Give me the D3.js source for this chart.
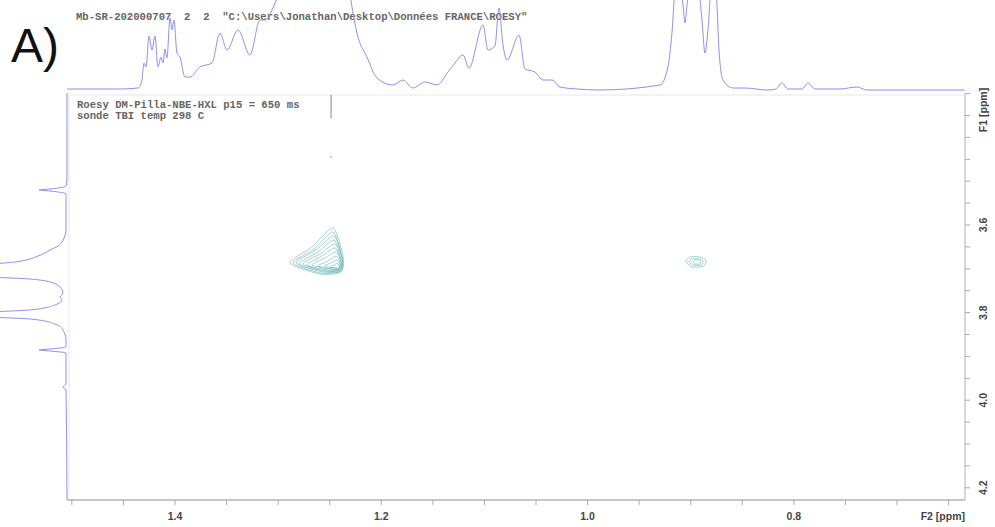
<!DOCTYPE html>
<html><head><meta charset="utf-8">
<script src="https://cdn.jsdelivr.net/npm/d3@7"></script>
<style>
html,body{margin:0;padding:0;background:#fff;}
svg{display:block;}
</style></head>
<body>
<svg id="chart" width="995" height="527"></svg>
<script>
// ---------- DATA ----------
const headerText = 'Mb-SR-202000707  2  2  "C:\\Users\\Jonathan\\Desktop\\Données FRANCE\\ROESY"';
const infoLines = ["Roesy DM-Pilla-NBE-HXL p15 = 650 ms", "sonde TBI temp 298 C"];
const panelLabel = "A)";

const f2Domain = [1.5047, 0.6341];
const f1Domain = [3.2986, 4.2279];
const f2MajorTicks = [1.4, 1.2, 1.0, 0.8];
const f2TickLabels = ["1.4", "1.2", "1.0", "0.8"];
const f2MinorTicks = [1.50,1.45,1.40,1.35,1.30,1.25,1.20,1.15,1.10,1.05,1.00,0.95,0.90,0.85,0.80,0.75,0.70,0.65];
const f1MajorTicks = [3.6, 3.8, 4.0, 4.2];
const f1TickLabels = ["3.6", "3.8", "4.0", "4.2"];
const f1MinorTicks = [3.30,3.35,3.40,3.45,3.50,3.55,3.60,3.65,3.70,3.75,3.80,3.85,3.90,3.95,4.00,4.05,4.10,4.15,4.20];

// 1D projection along F2 (ppm, intensity)
const f2SpecPpm = [1.5047,1.4533,1.4359,1.4320,1.4301,1.4281,1.4252,1.4223,1.4194,1.4165,1.4136,1.4116,1.4097,1.4078,1.4048,1.4029,1.4010,1.3981,1.3952,1.3903,1.3855,1.3758,1.3641,1.3564,1.3496,1.3389,1.3273,1.3176,1.3127,1.3050,1.3001,1.2885,1.2594,1.2352,1.2284,1.2236,1.2139,1.2042,1.1887,1.1790,1.1693,1.1576,1.1460,1.1353,1.1286,1.1208,1.1150,1.1014,1.0966,1.0898,1.0859,1.0820,1.0781,1.0665,1.0607,1.0510,1.0432,1.0345,1.0268,1.0103,0.9880,0.9298,0.9221,0.9182,0.9143,0.9075,0.9056,0.9036,0.9007,0.8939,0.8891,0.8862,0.8833,0.8794,0.8755,0.8726,0.8687,0.8590,0.8474,0.8257,0.8174,0.8115,0.8057,0.7921,0.7863,0.7796,0.7553,0.7388,0.7292,0.6341];
const f2SpecInt = [1,1,2,10,27,23,54,40,54,23,33,27,41,32,72,60,70,37,33,13,13,23,27,57,40,60,35,70,70,82,95,140,160,130,83,57,33,12,5,10,2,8,5,18,27,35,22,65,40,44,82,45,30,55,21,18,10,10,3,1,0,5,23,57,110,85,67,85,110,110,70,37,60,110,100,40,10,2,2,0,1,7,1,1,7,1,1,3,0,0];

// 1D projection along F1 (ppm, intensity)
const f1SpecPpm = [3.2986,3.4973,3.5110,3.5178,3.5201,3.5224,3.5292,3.6114,3.6297,3.6388,3.6479,3.6571,3.6708,3.6845,3.6936,3.7164,3.7233,3.7301,3.7416,3.7553,3.7644,3.7712,3.7826,3.7941,3.8009,3.8078,3.8146,3.8260,3.8397,3.8626,3.8785,3.8831,3.8854,3.8877,3.8922,3.9630,3.9699,3.9767,4.2279];
const f1SpecInt = [0,0,1,17,28,17,1,1,3,5,9,17,29,52,92,92,37,17,7,4,7,5,12,37,92,92,37,12,4,1,1,17,28,17,1,1,4,1,0];

// ROESY cross-peak contour rings [F2 ppm, F1 ppm]
const peakA = [
 [[1.2468,3.6068],[1.2371,3.6708],[1.2391,3.7073],[1.2594,3.7119],[1.2885,3.6868],[1.2672,3.6502]],
 [[1.2468,3.6160],[1.2381,3.6731],[1.2391,3.7050],[1.2585,3.7096],[1.2856,3.6868],[1.2652,3.6548]],
 [[1.2459,3.6251],[1.2381,3.6753],[1.2391,3.7050],[1.2565,3.7073],[1.2827,3.6868],[1.2633,3.6571]],
 [[1.2459,3.6342],[1.2381,3.6776],[1.2400,3.7027],[1.2555,3.7050],[1.2798,3.6890],[1.2614,3.6616]],
 [[1.2449,3.6434],[1.2391,3.6799],[1.2400,3.7027],[1.2536,3.7050],[1.2759,3.6890],[1.2594,3.6662]],
 [[1.2449,3.6525],[1.2391,3.6822],[1.2400,3.7027],[1.2517,3.7027],[1.2720,3.6913],[1.2575,3.6708]],
 [[1.2439,3.6616],[1.2391,3.6845],[1.2400,3.7005],[1.2497,3.7005],[1.2672,3.6913],[1.2546,3.6753]],
 [[1.2439,3.6708],[1.2400,3.6868],[1.2410,3.7005],[1.2478,3.7005],[1.2614,3.6936],[1.2517,3.6822]],
 [[1.2429,3.6799],[1.2400,3.6890],[1.2410,3.6982],[1.2459,3.6982],[1.2555,3.6936],[1.2488,3.6868]],
 [[1.2429,3.6868],[1.2410,3.6913],[1.2410,3.6982],[1.2439,3.6982],[1.2497,3.6959],[1.2459,3.6913]]
];
const peakB = [
 [[0.9046,3.6845],[0.9007,3.6731],[0.8910,3.6731],[0.8852,3.6799],[0.8872,3.6936],[0.8978,3.6959]],
 [[0.9017,3.6845],[0.8988,3.6776],[0.8920,3.6776],[0.8881,3.6822],[0.8891,3.6913],[0.8969,3.6913]],
 [[0.8978,3.6845],[0.8959,3.6799],[0.8920,3.6799],[0.8901,3.6845],[0.8910,3.6890],[0.8959,3.6890]]
];
// small artefacts near F2 = 1.25
const artefactLine = [[1.2487, 3.3032], [1.2487, 3.3568]];
const artefactDot = [1.2487, 3.4447];

// ---------- DRAW ----------
const svg = d3.select("#chart");
const L = 67, R = 965, T = 93, B = 500;
const x = d3.scaleLinear().domain(f2Domain).range([L, R]);
const y = d3.scaleLinear().domain(f1Domain).range([T, B]);
const topY = d3.scaleLinear().domain([0, 90]).range([90, 0]);
const leftX = d3.scaleLinear().domain([0, 67]).range([67, 0]);

const defs = svg.append("defs");
defs.append("clipPath").attr("id","clipTop").append("rect").attr("x",L).attr("y",0).attr("width",R-L).attr("height",T);
defs.append("clipPath").attr("id","clipLeft").append("rect").attr("x",0).attr("y",T).attr("width",L+1).attr("height",B-T);

// frame
svg.append("rect").attr("x",L+2).attr("y",T+2).attr("width",R-L-2).attr("height",B-T-2)
  .attr("fill","none").attr("stroke","#e8e8e8").attr("stroke-width",1);

// header
svg.append("text").attr("x",76).attr("y",20).text(headerText)
  .attr("font-family","'Liberation Mono', 'DejaVu Sans Mono', monospace")
  .attr("font-size",10.6).attr("font-weight","bold").attr("fill","#666")
  .style("white-space","pre").attr("xml:space","preserve");

svg.append("text").attr("x",11).attr("y",62).text(panelLabel)
  .attr("font-family","'Liberation Sans', Arial, sans-serif").attr("font-size",48).attr("fill","#111");

// top spectrum
const topData = f2SpecPpm.map((p,i)=>[p,f2SpecInt[i]]);
svg.append("path").datum(topData)
  .attr("clip-path","url(#clipTop)")
  .attr("d", d3.line().x(d=>x(d[0])).y(d=>topY(d[1])).curve(d3.curveMonotoneX))
  .attr("fill","none").attr("stroke","#8f8fec").attr("stroke-width",1);

// left spectrum
const leftData = f1SpecPpm.map((p,i)=>[p,f1SpecInt[i]]);
svg.append("path").datum(leftData)
  .attr("clip-path","url(#clipLeft)")
  .attr("d", d3.line().y(d=>y(d[0])).x(d=>leftX(d[1])).curve(d3.curveMonotoneY))
  .attr("fill","none").attr("stroke","#8f8fec").attr("stroke-width",1);

// info text
infoLines.forEach((t,i)=>{
  svg.append("text").attr("x",77).attr("y",108+i*10.5).text(t)
    .attr("font-family","'Liberation Mono', 'DejaVu Sans Mono', monospace")
    .attr("font-size",10.6).attr("font-weight","bold").attr("fill","#666")
    .attr("xml:space","preserve").style("white-space","pre");
});

// artefacts
svg.append("line").attr("x1",x(artefactLine[0][0])).attr("x2",x(artefactLine[1][0]))
  .attr("y1",y(artefactLine[0][1])).attr("y2",y(artefactLine[1][1]))
  .attr("stroke","#999").attr("stroke-width",1.2);
svg.append("rect").attr("x",x(artefactDot[0])-1).attr("y",y(artefactDot[1])-1).attr("width",2).attr("height",2).attr("fill","#ccc");

// contours
const ringLine = d3.line().x(d=>x(d[0])).y(d=>y(d[1])).curve(d3.curveCardinalClosed.tension(0.3));
[peakA, peakB].forEach(peak=>{
  svg.append("g").selectAll("path").data(peak).join("path")
    .attr("d", ringLine)
    .attr("fill","none").attr("stroke","#7dbdbf").attr("stroke-width",0.8).attr("stroke-opacity",0.9);
});

// bottom axis
const axG = svg.append("g");
axG.append("line").attr("x1",L).attr("x2",R).attr("y1",B).attr("y2",B).attr("stroke","#999").attr("stroke-width",1);
axG.selectAll("line.mt").data(f2MinorTicks).join("line").attr("class","mt")
  .attr("x1",d=>x(d)).attr("x2",d=>x(d)).attr("y1",B).attr("y2",B+5).attr("stroke","#aaa");
axG.selectAll("text.tl").data(f2MajorTicks).join("text").attr("class","tl")
  .attr("x",d=>x(d)).attr("y",B+20).attr("text-anchor","middle")
  .text((d,i)=>f2TickLabels[i])
  .attr("font-family","'Liberation Sans Narrow', 'Liberation Sans', Arial, sans-serif")
  .attr("font-size",10.5).attr("font-weight","bold").attr("fill","#444");
axG.append("text").attr("x",R).attr("y",B+20).attr("text-anchor","end").text("F2 [ppm]")
  .attr("font-family","'Liberation Sans Narrow', 'Liberation Sans', Arial, sans-serif")
  .attr("font-size",10.5).attr("font-weight","bold").attr("fill","#444");

// right axis
const ayG = svg.append("g");
ayG.append("line").attr("x1",R).attr("x2",R).attr("y1",T).attr("y2",B).attr("stroke","#bbb");
ayG.selectAll("line.mt").data(f1MinorTicks).join("line").attr("class","mt")
  .attr("y1",d=>y(d)).attr("y2",d=>y(d)).attr("x1",R).attr("x2",R+5).attr("stroke","#aaa");
ayG.selectAll("text.tl").data(f1MajorTicks).join("text").attr("class","tl")
  .attr("transform",d=>`translate(${R+22},${y(d)}) rotate(-90)`)
  .attr("text-anchor","middle").text((d,i)=>f1TickLabels[i])
  .attr("font-family","'Liberation Sans Narrow', 'Liberation Sans', Arial, sans-serif")
  .attr("font-size",10.5).attr("font-weight","bold").attr("fill","#444");
ayG.append("text").attr("transform",`translate(${R+22},${T+17}) rotate(-90)`)
  .attr("text-anchor","middle").text("F1 [ppm]")
  .attr("font-family","'Liberation Sans Narrow', 'Liberation Sans', Arial, sans-serif")
  .attr("font-size",10.5).attr("font-weight","bold").attr("fill","#444");
</script>
</body></html>
